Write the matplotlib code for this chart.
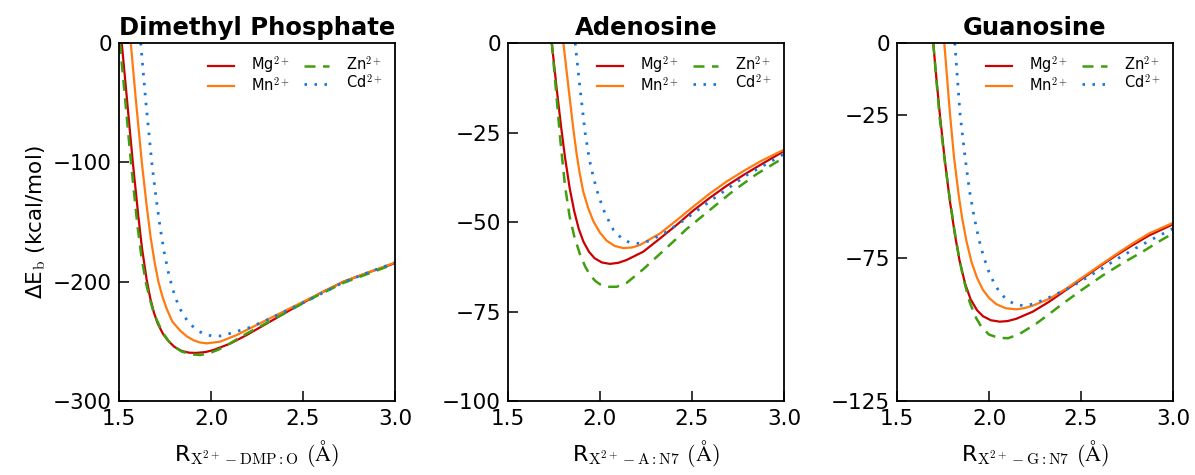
import matplotlib
matplotlib.use("Agg")
import matplotlib.pyplot as plt

plt.rcParams["font.family"] = ["DejaVu Sans"]
plt.rcParams["mathtext.fontset"] = "cm"
plt.rcParams["mathtext.default"] = "rm"

# ---------------------------------------------------------------------------
# Data (distance in Angstrom, binding energy kcal/mol)
# ---------------------------------------------------------------------------
IONS = ["Mg", "Mn", "Zn", "Cd"]

# Dimethyl phosphate
dmp_mg_r = [1.515, 1.545, 1.575, 1.605, 1.625, 1.65, 1.67, 1.69, 1.71, 1.74, 1.77, 1.80,
            1.84, 1.88, 1.92, 1.97, 2.013, 2.103, 2.194, 2.321, 2.447, 2.592, 2.72, 2.86, 3.0]
dmp_mg_e = [0, -50, -100, -145, -172, -198, -214, -226, -235, -244, -250, -254.5,
            -258, -259.5, -259.7, -259, -257.3, -252, -244.7, -233.5, -222.3, -209.8, -200, -192, -184.5]
dmp_mn_r = [1.564, 1.59, 1.624, 1.65, 1.672, 1.695, 1.714, 1.735, 1.76, 1.79, 1.832, 1.87,
            1.904, 1.94, 1.977, 2.049, 2.14, 2.23, 2.375, 2.592, 2.72, 2.86, 3.0]
dmp_mn_e = [0, -45, -100, -136, -163, -185, -200, -212, -223, -233.5, -241, -246,
            -249, -251, -251.7, -250.3, -244.7, -237.7, -226.5, -209.8, -200, -192, -184]
dmp_zn_r = [1.505, 1.535, 1.565, 1.598, 1.62, 1.645, 1.665, 1.685, 1.705, 1.735, 1.768, 1.80,
            1.84, 1.886, 1.94, 1.99, 2.04, 2.10, 2.176, 2.303, 2.447, 2.574, 2.72, 2.86, 3.0]
dmp_zn_e = [0, -50, -100, -150, -177, -200, -213, -224, -232, -242, -249.5, -254.5,
            -258.5, -260.8, -261.5, -260, -257, -252, -245, -234.5, -222.5, -212, -201, -193, -185]
dmp_cd_r = [1.618, 1.645, 1.678, 1.70, 1.724, 1.745, 1.768, 1.786, 1.804, 1.822, 1.846, 1.873,
            1.908, 1.953, 2.004, 2.058, 2.112, 2.212, 2.303, 2.411, 2.502, 2.60, 2.72, 2.86, 3.0]
dmp_cd_e = [0, -48, -100, -128, -155, -175, -192, -203, -212, -219.5, -227, -233,
            -238.6, -243.3, -245.5, -245.5, -243, -238.3, -232.1, -224.3, -217.6, -210, -200.5, -192, -184]

# Adenosine
ade_mg_r = [1.738, 1.765, 1.79, 1.81, 1.835, 1.86, 1.885, 1.91, 1.94, 1.97, 2.01, 2.054,
            2.10, 2.145, 2.235, 2.326, 2.417, 2.507, 2.598, 2.688, 2.779, 2.87, 3.0]
ade_mg_e = [0, -13, -24, -32, -40.5, -47, -52, -55.5, -58.3, -60.1, -61.3, -61.7,
            -61.4, -60.6, -58.3, -54.6, -50.8, -46.8, -43.2, -39.9, -36.9, -34.1, -30.2]
ade_mn_r = [1.801, 1.83, 1.855, 1.873, 1.89, 1.909, 1.935, 1.964, 2.0, 2.036, 2.08, 2.127,
            2.175, 2.218, 2.326, 2.417, 2.507, 2.598, 2.688, 2.779, 2.87, 3.0]
ade_mn_e = [0, -13, -24, -31, -36.5, -41.5, -46, -49.8, -53, -55.2, -56.7, -57.3,
            -57.1, -56.4, -53.2, -49.5, -45.7, -42, -38.7, -35.8, -33.1, -29.8]
ade_zn_r = [1.738, 1.762, 1.784, 1.81, 1.835, 1.86, 1.891, 1.92, 1.946, 1.975, 2.0, 2.05,
            2.09, 2.145, 2.235, 2.326, 2.40, 2.47, 2.598, 2.725, 2.852, 3.0]
ade_zn_e = [0, -14, -27, -40, -48.5, -54, -59, -62.5, -64.8, -66.5, -67.4, -68.1,
            -68.1, -67, -63.2, -58.9, -55.4, -52, -46.6, -41.3, -36.6, -32]
ade_cd_r = [1.865, 1.89, 1.919, 1.942, 1.964, 1.991, 2.027, 2.073, 2.118, 2.163, 2.218, 2.272,
            2.363, 2.453, 2.544, 2.671, 2.797, 2.942, 3.0]
ade_cd_e = [0, -12, -25, -32.5, -37.5, -42.5, -47.6, -52.2, -54.6, -55.8, -56, -55.2,
            -52.7, -49.6, -46.2, -41.5, -36.9, -32.7, -31]

# Guanosine
gua_mg_r = [1.697, 1.715, 1.733, 1.76, 1.787, 1.815, 1.84, 1.87, 1.90, 1.935, 1.967, 2.01,
            2.058, 2.10, 2.148, 2.238, 2.328, 2.419, 2.509, 2.599, 2.69, 2.78, 2.87, 3.0]
gua_mg_e = [0, -13, -25, -41, -55, -67, -76, -84, -89.5, -93.3, -95.4, -96.8,
            -97.3, -97.1, -96.3, -93.8, -90.3, -86.2, -82.2, -78.1, -74.2, -70.6, -67.2, -63.3]
gua_mn_r = [1.757, 1.772, 1.787, 1.81, 1.835, 1.855, 1.877, 1.905, 1.935, 1.967, 2.0, 2.04,
            2.09, 2.148, 2.19, 2.238, 2.328, 2.419, 2.509, 2.599, 2.69, 2.78, 2.87, 3.0]
gua_mn_e = [0, -12, -24, -40, -53, -61.5, -69, -76.5, -82, -86.2, -89, -91.2,
            -92.6, -93, -92.6, -91.7, -89.3, -85.8, -81.8, -77.8, -73.8, -70, -66.5, -62.8]
gua_zn_r = [1.697, 1.713, 1.73, 1.757, 1.784, 1.81, 1.835, 1.86, 1.895, 1.93, 1.959, 2.0,
            2.05, 2.103, 2.166, 2.256, 2.328, 2.401, 2.509, 2.617, 2.725, 2.834, 2.942, 3.0]
gua_zn_e = [0, -12, -25, -40, -53, -64.5, -74, -82, -90.5, -96, -99.2, -101.8,
            -102.9, -103.1, -101.6, -98, -94.6, -91, -86, -81.2, -76.9, -72.9, -68.6, -66.5]
gua_cd_r = [1.814, 1.828, 1.843, 1.87, 1.895, 1.92, 1.945, 1.97, 2.0, 2.03, 2.058, 2.094,
            2.139, 2.193, 2.247, 2.328, 2.437, 2.527, 2.617, 2.707, 2.798, 2.897, 3.0]
gua_cd_e = [0, -12, -25, -40, -52, -61, -68.5, -74.5, -80, -84.2, -87, -89.5,
            -91.2, -91.8, -91, -88.8, -85.5, -82.1, -78.6, -75, -71.6, -68.2, -64.8]

TITLES = ["Dimethyl Phosphate", "Adenosine", "Guanosine"]
XLABELS = [
    r"R$_{\mathrm{X^{2+}-DMP:O}}$ $(\mathrm{\AA})$",
    r"R$_{\mathrm{X^{2+}-A:N7}}$ $(\mathrm{\AA})$",
    r"R$_{\mathrm{X^{2+}-G:N7}}$ $(\mathrm{\AA})$",
]
YTICKS = [[0, -100, -200, -300], [0, -25, -50, -75, -100], [0, -25, -75, -125]]
XTICKS = [1.5, 2.0, 2.5, 3.0]

panels = [
    [(dmp_mg_r, dmp_mg_e), (dmp_mn_r, dmp_mn_e), (dmp_zn_r, dmp_zn_e), (dmp_cd_r, dmp_cd_e)],
    [(ade_mg_r, ade_mg_e), (ade_mn_r, ade_mn_e), (ade_zn_r, ade_zn_e), (ade_cd_r, ade_cd_e)],
    [(gua_mg_r, gua_mg_e), (gua_mn_r, gua_mn_e), (gua_zn_r, gua_zn_e), (gua_cd_r, gua_cd_e)],
]

# styles per ion
STYLES = {
    "Mg": dict(color="#cc0000", lw=1.6, ls="-"),
    "Mn": dict(color="#ff7a10", lw=1.6, ls="-"),
    "Zn": dict(color="#3f9f0f", lw=1.8, dashes=(4.4, 3.0)),
    "Cd": dict(color="#1a78dc", lw=2.0, dashes=(0.9, 2.7)),
}

fig = plt.figure(figsize=(11.95, 4.75), dpi=100)
lefts = [119, 508, 897]

for i, left in enumerate(lefts):
    ax = fig.add_axes([left / 1195, 74 / 475, 276 / 1195, 358 / 475])
    for ion, (r, e) in zip(IONS, panels[i]):
        ax.plot(r, e, label=ion + r"$^{2+}$", solid_joinstyle="round", **STYLES[ion])

    ax.set_xlim(1.5, 3.0)
    ax.set_ylim(YTICKS[i][-1], 0)
    ax.set_xticks(XTICKS)
    ax.set_xticklabels(["1.5", "2.0", "2.5", "3.0"])
    ax.set_yticks(YTICKS[i])
    ax.tick_params(direction="in", length=7, width=1.1, labelsize=15.5,
                   top=False, right=False)
    ax.tick_params(axis="x", pad=6)
    ax.tick_params(axis="y", pad=5)
    for sp in ax.spines.values():
        sp.set_linewidth(1.3)

    ax.set_title(TITLES[i], fontsize=17.5, fontweight="bold", pad=6)
    ax.set_xlabel(XLABELS[i], fontsize=16, labelpad=6)
    if i == 0:
        ax.set_ylabel(r"ΔE$_{\mathrm{b}}$ (kcal/mol)", fontsize=15.5, labelpad=4)

    ax.legend(loc="upper right", ncol=2, frameon=False, fontsize=10.5,
              handlelength=1.75, handletextpad=1.15, columnspacing=1.0,
              labelspacing=0.0, borderaxespad=0.45)

fig.savefig("out.png", dpi=100)
